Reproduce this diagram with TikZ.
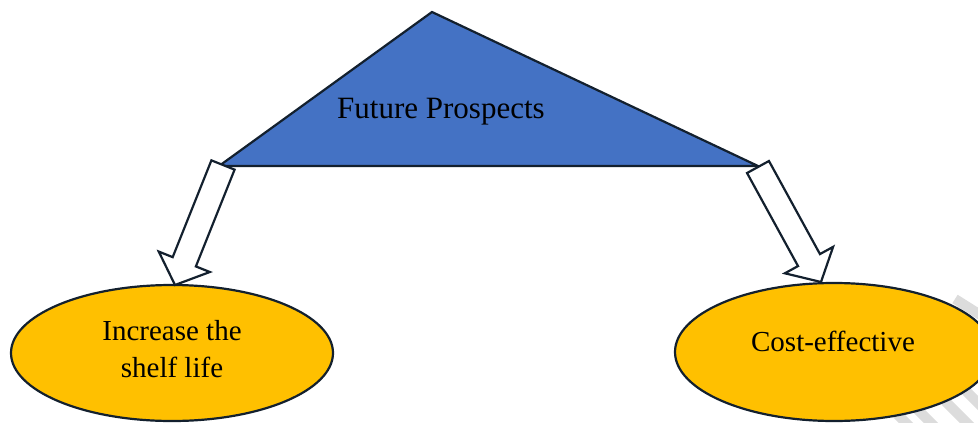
\documentclass[tikz,border=0pt]{standalone}
\usepackage{fontspec}
\setmainfont{Liberation Serif}
\usetikzlibrary{calc,shapes.geometric}
\definecolor{outl}{HTML}{13202E}
\definecolor{triblue}{HTML}{4472C4}
\definecolor{ellyel}{HTML}{FFC000}
\definecolor{wmgray}{HTML}{DCDCDC}
\tikzset{
  outline/.style={draw=outl, line width=2.2pt, line join=miter},
  trishape/.style={outline, fill=triblue},
  blockarr/.style={outline, fill=white, line join=miter},
  ellnode/.style={ellipse, outline, fill=ellyel, inner sep=0pt},
  bigtext/.style={font=\fontsize{31}{37}\selectfont, inner sep=0pt},
  elltext/.style={font=\fontsize{29}{37}\selectfont, inner sep=0pt, align=center},
  wmline/.style={draw=wmgray, line width=10pt}
}
\newcommand{\blockarrow}[2]{%
  \path ($(#2)!25pt!(#1)$) coordinate (hb#2);
  \draw[blockarr]
    ($(#1)!12.5pt!90:(#2)$) --
    ($(hb#2)!12.5pt!90:(#2)$) --
    ($(hb#2)!27.5pt!90:(#2)$) --
    (#2) --
    ($(hb#2)!27.5pt!-90:(#2)$) --
    ($(hb#2)!12.5pt!-90:(#2)$) --
    ($(#1)!12.5pt!-90:(#2)$) -- cycle;
}
\begin{document}
\begin{tikzpicture}[x=1pt, y=-1pt]
  \useasboundingbox (0,0) rectangle (978,423);
  \clip (0,0) rectangle (978,423);
  % faint watermark strokes
  \draw[wmline] (955,299) -- (990,321);
  \draw[wmline] (945,401) -- (975,431);
  \draw[wmline] (958,383) -- (990,415);
  \draw[wmline] (912,404) -- (940,432);
  \draw[wmline] (895,412) -- (915,432);
  % triangle
  \coordinate (apex) at (432,12);
  \coordinate (bl) at (219,166);
  \coordinate (br) at (758,166);
  \draw[trishape] (apex) -- (br) -- (bl) -- cycle;
  \node[bigtext, anchor=base] (fp) at (441,118) {Future Prospects};
  % ellipses
  \node[ellnode, minimum width=322pt, minimum height=136pt] (e1) at (172,353) {};
  \node[ellnode, minimum width=318pt, minimum height=138pt] (e2) at (834,352) {};
  \node[elltext, anchor=base] (t1a) at (172,340) {Increase the};
  \node[elltext, anchor=base] (t1b) at (172,377) {shelf life};
  \node[elltext, anchor=base] (t2) at (833,351) {Cost-effective};
  % block arrows
  \coordinate (lt) at (223,165);
  \coordinate (lp) at (175,285);
  \coordinate (rt) at (758,167);
  \coordinate (rp) at (821,282);
  \blockarrow{lt}{lp}
  \blockarrow{rt}{rp}
\end{tikzpicture}
\end{document}
